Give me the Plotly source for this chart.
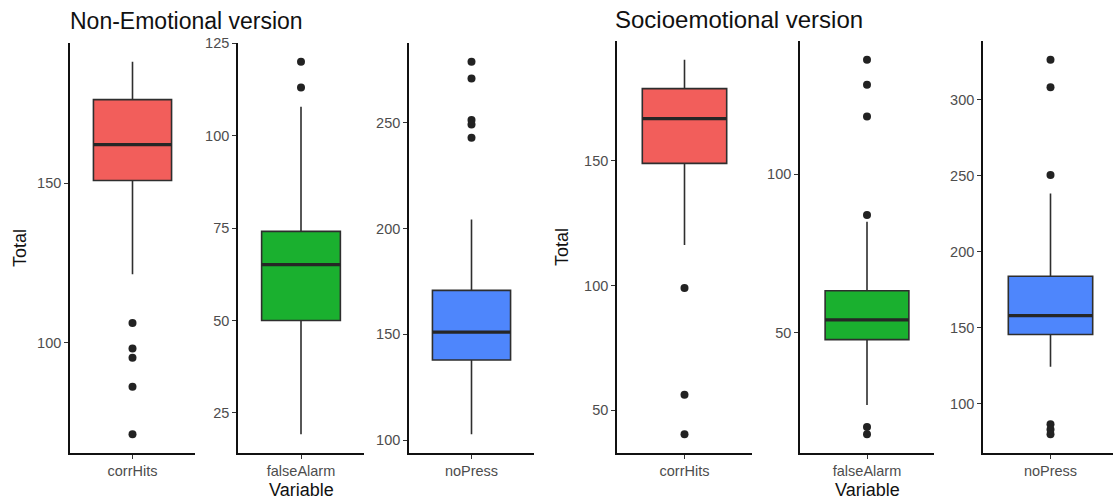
import plotly.graph_objects as go

W, H = 1113, 504

# Box statistics per panel: lower whisker, Q1, median, Q3, upper whisker
categories = ["corrHits", "falseAlarm", "noPress"]

ne_corrHits = [121.4, 150.8, 162.1, 176.2, 188.1]
ne_falseAlarm = [19.2, 50.0, 65.1, 74.1, 107.8]
ne_noPress = [102.8, 137.9, 151.1, 170.8, 204.3]
se_corrHits = [116.3, 149.0, 167.0, 179.0, 190.6]
se_falseAlarm = [27.3, 47.9, 54.1, 63.3, 85.0]
se_noPress = [124.2, 145.4, 157.9, 183.8, 238.2]

# Outlying points
ne_corrHits_out = [106.1, 98.1, 95.2, 86.1, 71.2]
ne_falseAlarm_out = [120.0, 113.0]
ne_noPress_out = [278.8, 270.8, 251.3, 249.1, 242.9]
se_corrHits_out = [99.0, 56.2, 40.3]
se_falseAlarm_out = [136.0, 128.1, 118.1, 87.1, 20.4, 18.1]
se_noPress_out = [326.2, 308.1, 250.4, 86.4, 82.9, 79.8]

colors = ["#F25E5B", "#1AB02F", "#4E86FC"]
dticks = [50, 25, 50, 50, 50, 50]

panels = [
    (ne_corrHits, ne_corrHits_out, 0),
    (ne_falseAlarm, ne_falseAlarm_out, 1),
    (ne_noPress, ne_noPress_out, 2),
    (se_corrHits, se_corrHits_out, 0),
    (se_falseAlarm, se_falseAlarm_out, 1),
    (se_noPress, se_noPress_out, 2),
]

# Panel placement in pixels (left, right, top, bottom)
px_x = [(70, 195), (238, 364), (409, 534), (617, 752), (800, 934), (983, 1118)]
px_top = [43, 43, 43, 41, 41, 41]
px_bottom = 453

BOX_W = 0.75
OUT = "#2e2e2e"

fig = go.Figure()
layout = dict(
    width=W, height=H,
    margin=dict(l=0, r=0, t=0, b=0, pad=0, autoexpand=False),
    paper_bgcolor="white", plot_bgcolor="white",
    showlegend=False,
    font=dict(family="Liberation Sans, Arial, sans-serif"),
)

for i, (stats, outl, ci) in enumerate(panels):
    n = i + 1
    xa = "x" if n == 1 else f"x{n}"
    ya = "y" if n == 1 else f"y{n}"
    lo, q1, med, q3, hi = stats

    fig.add_trace(go.Box(
        x=[1], q1=[q1], median=[med], q3=[q3],
        lowerfence=[lo], upperfence=[hi],
        width=BOX_W, whiskerwidth=0,
        fillcolor=colors[ci], line=dict(color=OUT, width=1.6),
        boxpoints=False, hoverinfo="skip",
        xaxis=xa, yaxis=ya,
    ))
    # thicker median bar
    fig.add_trace(go.Scatter(
        x=[1 - BOX_W / 2, 1 + BOX_W / 2], y=[med, med], mode="lines",
        line=dict(color="#262626", width=3.2), hoverinfo="skip",
        xaxis=xa, yaxis=ya,
    ))
    fig.add_trace(go.Scatter(
        x=[1] * len(outl), y=outl, mode="markers",
        marker=dict(color="#222222", size=8), hoverinfo="skip",
        xaxis=xa, yaxis=ya,
    ))

    allv = stats + outl
    vmin, vmax = min(allv), max(allv)
    pad = 0.05 * (vmax - vmin)

    l, r = px_x[i]
    r_clip = min(r, W)
    xhi = 0.4 + 1.2 * (r_clip - l) / (r - l)
    key_x = "xaxis" if n == 1 else f"xaxis{n}"
    key_y = "yaxis" if n == 1 else f"yaxis{n}"
    layout[key_x] = dict(
        domain=[l / W, r_clip / W], anchor=ya, automargin=False,
        range=[0.4, xhi], tickvals=[1], ticktext=[categories[ci]],
        showline=True, linecolor="#111111", linewidth=1.6,
        ticks="outside", ticklen=4, tickcolor="#333333", tickwidth=1.2,
        tickfont=dict(size=14.5, color="#4D4D4D"),
        showgrid=False, zeroline=False, fixedrange=True,
    )
    layout[key_y] = dict(
        domain=[(H - px_bottom) / H, (H - px_top[i]) / H], anchor=xa,
        automargin=False,
        range=[vmin - pad, vmax + pad], tick0=0, dtick=dticks[i],
        showline=True, linecolor="#111111", linewidth=1.6,
        ticks="outside", ticklen=4, tickcolor="#333333", tickwidth=1.2,
        tickfont=dict(size=14.5, color="#4D4D4D"),
        showgrid=False, zeroline=False, fixedrange=True,
    )

fig.update_layout(**layout)

def ann(text, x, y, size, xanchor="center", angle=0):
    fig.add_annotation(
        text=text, x=x / W, y=1 - y / H, xref="paper", yref="paper",
        xanchor=xanchor, yanchor="middle", showarrow=False, textangle=angle,
        font=dict(size=size, color="#111111"),
    )

ann("Non-Emotional version", 68, 21, 23, xanchor="left")
ann("Socioemotional version", 613, 20, 24, xanchor="left")
ann("Total", 20, 248, 18, angle=-90)
ann("Total", 562, 247, 18, angle=-90)
ann("Variable", 301, 490, 18)
ann("Variable", 867, 490, 18)

fig.write_html("out.html")
